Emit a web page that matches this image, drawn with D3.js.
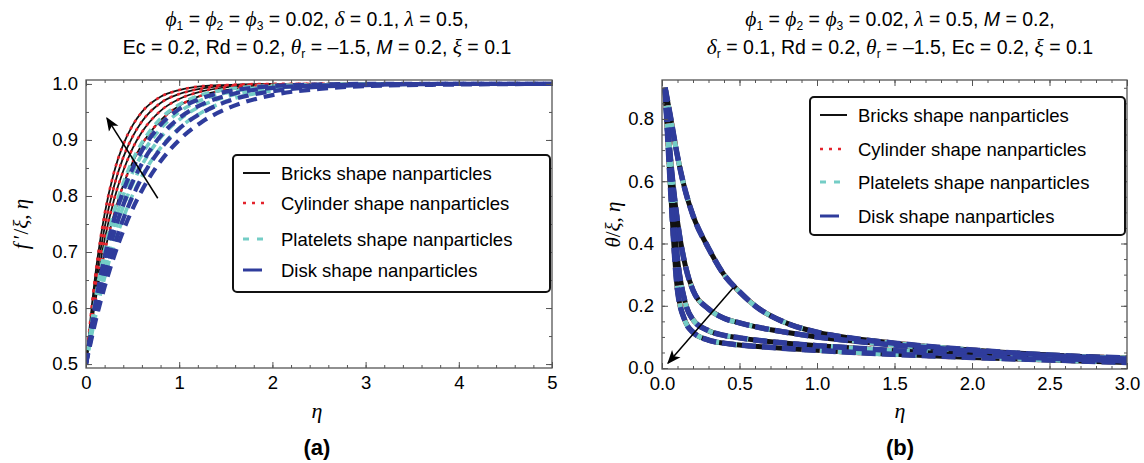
<!DOCTYPE html>
<html>
<head>
<meta charset="utf-8">
<script src="https://cdnjs.cloudflare.com/ajax/libs/d3/7.8.5/d3.min.js"></script>
<style>
body { margin: 0; background: #fff; }
text { font-family: "Liberation Sans", Arial, sans-serif; }
</style>
</head>
<body>
<script>
/* ---------- data ---------- */
var shapes = ["Bricks shape nanparticles", "Cylinder shape nanparticles",
              "Platelets shape nanparticles", "Disk shape nanparticles"];

// (a) f' profiles, four curves per shape
var etaA = [0, 0.1, 0.2, 0.3, 0.4, 0.5, 0.6, 0.8, 1.0, 1.25, 1.5, 2.0, 2.5, 3.0, 4.0, 5.0];
var fBricks = [
  [0.5, 0.659, 0.768, 0.842, 0.892, 0.926, 0.950, 0.977, 0.989, 0.996, 0.998, 1.0, 1.0, 1.0, 1.0, 1.0],
  [0.5, 0.643, 0.744, 0.817, 0.869, 0.906, 0.933, 0.966, 0.982, 0.992, 0.997, 0.999, 1.0, 1.0, 1.0, 1.0],
  [0.5, 0.627, 0.722, 0.793, 0.845, 0.885, 0.914, 0.952, 0.973, 0.987, 0.994, 0.999, 1.0, 1.0, 1.0, 1.0],
  [0.5, 0.612, 0.700, 0.767, 0.820, 0.860, 0.892, 0.935, 0.961, 0.980, 0.989, 0.997, 0.999, 1.0, 1.0, 1.0]
];
var fCylinder = fBricks; // drawn right on top of the bricks curves
var fPlatelets = [
  [0.5, 0.615, 0.703, 0.771, 0.823, 0.864, 0.895, 0.938, 0.963, 0.981, 0.990, 0.997, 0.999, 1.0, 1.0, 1.0],
  [0.5, 0.603, 0.685, 0.749, 0.801, 0.842, 0.874, 0.920, 0.950, 0.972, 0.984, 0.995, 0.998, 1.0, 1.0, 1.0],
  [0.5, 0.593, 0.669, 0.731, 0.781, 0.822, 0.855, 0.904, 0.936, 0.962, 0.977, 0.992, 0.997, 0.999, 1.0, 1.0],
  [0.5, 0.584, 0.655, 0.713, 0.761, 0.802, 0.835, 0.886, 0.921, 0.950, 0.969, 0.988, 0.995, 0.998, 1.0, 1.0]
];
var fDisk = [
  [0.5, 0.607, 0.691, 0.757, 0.809, 0.849, 0.881, 0.927, 0.955, 0.975, 0.986, 0.996, 0.999, 1.0, 1.0, 1.0],
  [0.5, 0.595, 0.672, 0.734, 0.784, 0.825, 0.858, 0.907, 0.939, 0.964, 0.979, 0.993, 0.997, 0.999, 1.0, 1.0],
  [0.5, 0.583, 0.653, 0.710, 0.759, 0.799, 0.833, 0.884, 0.920, 0.949, 0.968, 0.987, 0.995, 0.998, 1.0, 1.0],
  [0.5, 0.575, 0.638, 0.692, 0.738, 0.777, 0.810, 0.862, 0.900, 0.933, 0.955, 0.980, 0.991, 0.996, 0.999, 1.0]
];

// (b) theta profiles, the four shapes lie on top of each other
var etaB = [0.02, 0.05, 0.1, 0.15, 0.2, 0.3, 0.4, 0.5, 0.6, 0.8, 1.0, 1.25, 1.5, 2.0, 2.5, 3.0];
var thetaBricks = [
  [0.90, 0.82, 0.68, 0.57, 0.49, 0.385, 0.30, 0.245, 0.20, 0.145, 0.115, 0.094, 0.080, 0.058, 0.042, 0.032],
  [0.90, 0.70, 0.47, 0.33, 0.25, 0.19, 0.16, 0.145, 0.133, 0.115, 0.100, 0.086, 0.074, 0.055, 0.040, 0.029],
  [0.90, 0.66, 0.35, 0.21, 0.155, 0.12, 0.105, 0.097, 0.090, 0.080, 0.072, 0.064, 0.056, 0.043, 0.032, 0.023],
  [0.90, 0.62, 0.25, 0.15, 0.115, 0.09, 0.080, 0.074, 0.070, 0.063, 0.057, 0.050, 0.044, 0.034, 0.026, 0.018]
];
var thetaCylinder = thetaBricks;
var thetaPlatelets = thetaBricks;
var thetaDisk = thetaBricks;

// tick labels
var xTicksA = [0, 1, 2, 3, 4, 5];
var yTicksA = [0.5, 0.6, 0.7, 0.8, 0.9, 1.0];
var xTicksB = [0, 0.5, 1.0, 1.5, 2.0, 2.5, 3.0];
var yTicksB = [0, 0.2, 0.4, 0.6, 0.8];

// arrows: [from, to] in data units
var arrowA = [[0.77, 0.796], [0.225, 0.939]];
var arrowB = [[0.458, 0.257], [0.039, 0.016]];

/* ---------- drawing ---------- */
var W = 1144, H = 463;
var svg = d3.select("body").append("svg").attr("width", W).attr("height", H);

svg.append("defs").append("marker")
  .attr("id", "head").attr("viewBox", "0 0 10 10")
  .attr("refX", 9).attr("refY", 5)
  .attr("markerWidth", 14).attr("markerHeight", 14)
  .attr("markerUnits", "userSpaceOnUse")
  .attr("orient", "auto")
  .append("path").attr("d", "M0,1 L10,5 L0,9 L2.5,5 Z").attr("fill", "#000");

var colors = ["#111", "#e3232c", "#74cdc6", "#2f3c9c"];

function styleA(i) {
  return [
    {w: 1.8, dash: null},
    {w: 2.6, dash: "3,5"},
    {w: 3.6, dash: "8,6"},
    {w: 4.2, dash: "11,7"}
  ][i];
}
function styleB(i) {
  return [
    {w: 5.0, dash: null},
    {w: 5.0, dash: "4,14"},
    {w: 5.0, dash: "7,11"},
    {w: 5.5, dash: "14,6"}
  ][i];
}

function italicSpan(t, s, fam) {
  return t.append("tspan").text(s).attr("font-style", "italic")
    .attr("font-family", fam || "'Liberation Serif', serif");
}

// segments: plain strings, or {i: "x"} italic, {s: "1"} subscript, {m: "M"} italic sans
function richText(g, x, y, segs, size) {
  var t = g.append("text").attr("x", x).attr("y", y)
    .attr("text-anchor", "middle").attr("font-size", size).attr("fill", "#000");
  var shifted = false;
  segs.forEach(function(s) {
    var sp;
    if (typeof s === "string") {
      sp = t.append("tspan").text(s);
    } else if (s.i) {
      sp = italicSpan(t, s.i).attr("font-size", size * 1.1);
    } else if (s.m) {
      sp = italicSpan(t, s.m, "'Liberation Sans', sans-serif");
    } else if (s.s) {
      sp = t.append("tspan").text(s.s).attr("font-size", size * 0.62).attr("dy", 4);
      shifted = true;
      return;
    }
    if (shifted) { sp.attr("dy", -4); shifted = false; }
  });
  return t;
}

function panel(cfg) {
  var g = svg.append("g");
  var x = d3.scaleLinear().domain(cfg.xd).range(cfg.xr);
  var y = d3.scaleLinear().domain(cfg.yd).range(cfg.yr);
  var x0 = cfg.xr[0], x1 = cfg.xr[1], y0 = cfg.yr[0], y1 = cfg.yr[1];

  // clip curves to the frame
  var cid = "clip" + cfg.id;
  svg.select("defs").append("clipPath").attr("id", cid)
    .append("rect").attr("x", x0).attr("y", y1).attr("width", x1 - x0).attr("height", y0 - y1);

  var line = d3.line()
    .x(function(d) { return x(d[0]); })
    .y(function(d) { return y(d[1]); })
    .curve(d3.curveMonotoneX);

  var curves = g.append("g").attr("clip-path", "url(#" + cid + ")");
  cfg.series.forEach(function(set, si) {
    var st = cfg.style(si);
    set.forEach(function(vals) {
      var pts = cfg.eta.map(function(e, k) { return [e, vals[k]]; });
      curves.append("path")
        .attr("d", line(pts))
        .attr("fill", "none")
        .attr("stroke", colors[si])
        .attr("stroke-width", st.w)
        .attr("stroke-dasharray", st.dash);
    });
  });

  // axes with inward ticks on all four sides
  function ax(axis, tx, ty, vals, size, fmt) {
    var a = g.append("g").attr("transform", "translate(" + tx + "," + ty + ")")
      .call(axis.tickValues(vals).tickSize(size).tickPadding(8).tickFormat(fmt));
    a.select(".domain").remove();
    a.selectAll("line").attr("stroke", "#555");
    a.selectAll("text").attr("font-size", 18.5).attr("fill", "#000")
      .attr("font-family", "'Liberation Sans', Arial, sans-serif");
    return a;
  }
  var none = function() { return ""; };
  ax(d3.axisBottom(x), 0, y0, cfg.xt, -6, cfg.fx);
  ax(d3.axisBottom(x), 0, y0, cfg.xm, -3, none);
  ax(d3.axisTop(x), 0, y1, cfg.xt, -6, none);
  ax(d3.axisTop(x), 0, y1, cfg.xm, -3, none);
  ax(d3.axisLeft(y), x0, 0, cfg.yt, -6, cfg.fy);
  ax(d3.axisLeft(y), x0, 0, cfg.ym, -3, none);
  ax(d3.axisRight(y), x1, 0, cfg.yt, -6, none);
  ax(d3.axisRight(y), x1, 0, cfg.ym, -3, none);

  g.append("rect").attr("x", x0).attr("y", y1)
    .attr("width", x1 - x0).attr("height", y0 - y1)
    .attr("fill", "none").attr("stroke", "#555").attr("stroke-width", 1.3);

  // arrow
  g.append("line")
    .attr("x1", x(cfg.arrow[0][0])).attr("y1", y(cfg.arrow[0][1]))
    .attr("x2", x(cfg.arrow[1][0])).attr("y2", y(cfg.arrow[1][1]))
    .attr("stroke", "#000").attr("stroke-width", 1.5)
    .attr("marker-end", "url(#head)");

  // legend
  var L = cfg.legend;
  var lg = g.append("g");
  lg.append("rect").attr("x", L.x).attr("y", L.y).attr("width", L.w).attr("height", L.h)
    .attr("rx", 4).attr("fill", "#fff").attr("stroke", "#111").attr("stroke-width", 2);
  var rows = lg.selectAll("g.row").data(shapes).enter().append("g")
    .attr("transform", function(d, i) { return "translate(" + L.x + "," + L.rows[i] + ")"; });
  rows.append("line")
    .attr("x1", 10).attr("x2", function(d, i) { return i === 3 ? 29 : 37; })
    .attr("y1", 0).attr("y2", 0)
    .attr("stroke", function(d, i) { return colors[i]; })
    .attr("stroke-width", function(d, i) { return [2, 2.4, 2.8, 3][i]; })
    .attr("stroke-dasharray", function(d, i) { return [null, "3,6", "6,8", null][i]; });
  rows.append("text").attr("x", 48).attr("y", 6.5).attr("font-size", 18.5)
    .text(function(d) { return d; });

  // titles and labels
  richText(g, cfg.cx, 26, cfg.title1, 19.5);
  richText(g, cfg.cx, 54, cfg.title2, 19.5);
  italicSpan(g.append("text").attr("x", cfg.cx).attr("y", 418).attr("text-anchor", "middle")
    .attr("font-size", 22), "η");
  g.append("text").attr("x", cfg.cx).attr("y", 455).attr("text-anchor", "middle")
    .attr("font-size", 22).attr("font-weight", "bold").text(cfg.tag);

  var yl = g.append("text").attr("font-size", 21).attr("text-anchor", "middle")
    .attr("transform", "translate(" + cfg.ylx + "," + ((y0 + y1) / 2) + ") rotate(-90)");
  cfg.ylabel.forEach(function(s) {
    if (s.i) italicSpan(yl, s.i); else yl.append("tspan").text(s)
      .attr("font-family", "'Liberation Serif', serif");
  });
}

panel({
  id: "a",
  xd: [0, 5], xr: [86, 552],
  yd: [0.493, 1.007], yr: [368, 80],
  eta: etaA,
  series: [fBricks, fCylinder, fPlatelets, fDisk],
  style: styleA,
  xt: xTicksA, xm: d3.range(0, 5.01, 0.2),
  yt: yTicksA, ym: d3.range(0.5, 1.001, 0.05),
  fx: d3.format("d"), fy: d3.format(".1f"),
  arrow: arrowA,
  legend: {x: 233, y: 155, w: 317, h: 137, rows: [173, 203, 239, 270]},
  cx: 317, tag: "(a)", ylx: 28,
  ylabel: [{i: "f\u2009"}, "\u2032/", {i: "\u03be"}, ", ", {i: "\u03b7"}],
  title1: [{i: "\u03d5"}, {s: "1"}, " = ", {i: "\u03d5"}, {s: "2"}, " = ", {i: "\u03d5"}, {s: "3"},
           " = 0.02, ", {i: "\u03b4"}, " = 0.1, ", {i: "\u03bb"}, " = 0.5,"],
  title2: ["Ec = 0.2, Rd = 0.2, ", {i: "\u03b8"}, {s: "r"}, " = \u20131.5, ", {m: "M"},
           " = 0.2, ", {i: "\u03be"}, " = 0.1"]
});

panel({
  id: "b",
  xd: [0, 3], xr: [662, 1127],
  yd: [-0.003, 0.925], yr: [369, 80],
  eta: etaB,
  series: [thetaBricks, thetaCylinder, thetaPlatelets, thetaDisk],
  style: styleB,
  xt: xTicksB, xm: d3.range(0, 3.001, 0.1),
  yt: yTicksB, ym: d3.range(0, 0.901, 0.05),
  fx: d3.format(".1f"), fy: d3.format(".1f"),
  arrow: arrowB,
  legend: {x: 810, y: 97, w: 315, h: 138, rows: [115, 149, 182, 216]},
  cx: 900, tag: "(b)", ylx: 620,
  ylabel: [{i: "\u03b8"}, "/", {i: "\u03be"}, ", ", {i: "\u03b7"}],
  title1: [{i: "\u03d5"}, {s: "1"}, " = ", {i: "\u03d5"}, {s: "2"}, " = ", {i: "\u03d5"}, {s: "3"},
           " = 0.02, ", {i: "\u03bb"}, " = 0.5, ", {m: "M"}, " = 0.2,"],
  title2: [{i: "\u03b4"}, {s: "r"}, " = 0.1, Rd = 0.2, ", {i: "\u03b8"}, {s: "r"},
           " = \u20131.5, Ec = 0.2, ", {i: "\u03be"}, " = 0.1"]
});
</script>
</body>
</html>
